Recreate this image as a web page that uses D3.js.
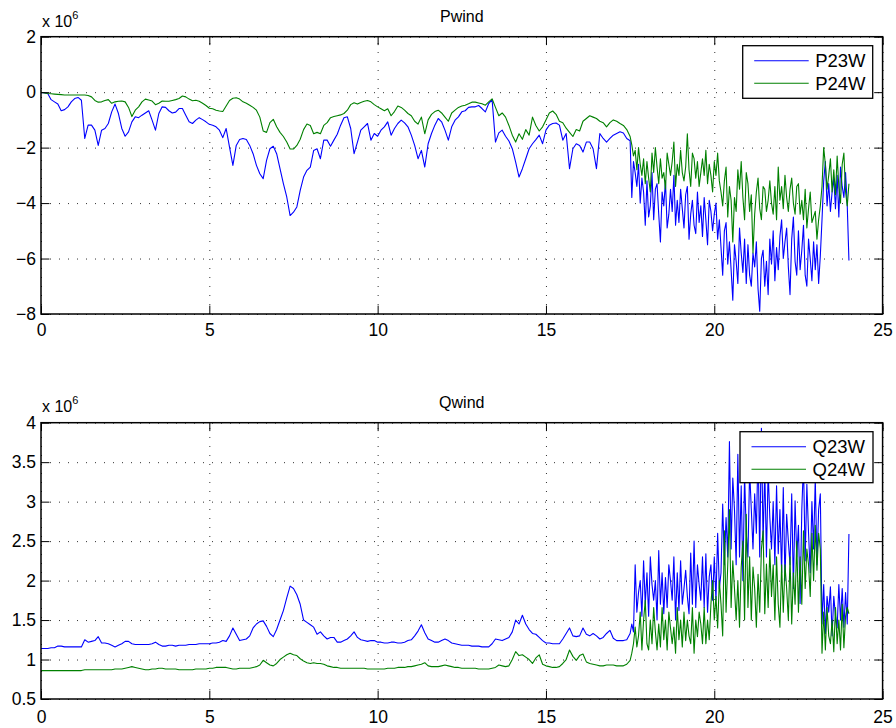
<!DOCTYPE html>
<html>
<head>
<meta charset="utf-8">
<script src="https://cdn.jsdelivr.net/npm/d3@7"></script>
<style>
  body { margin: 0; background: #fff; }
  svg { font-family: "Liberation Sans", Arial, Helvetica, sans-serif; }
</style>
</head>
<body>
<svg width="896" height="728"></svg>
<script>
// sample times, hours: every 6 min up to 17.4 h, then every 3 min (noisy part)
var hours = d3.range(175).map(i => i / 10)
    .concat(d3.range(131).map(i => 17.5 + i / 20));

// active power, x 1e6
var p23w = [
  -0.02,-0.02,-0.05,-0.27,-0.35,-0.43,-0.67,-0.63,-0.53,-0.35,
  -0.23,-0.19,-0.29,-1.67,-1.19,-1.19,-1.37,-1.92,-1.37,-1.31,
  -1.13,-0.71,-0.43,-0.77,-1.31,-1.59,-1.43,-1.07,-0.89,-0.92,
  -0.83,-0.75,-0.67,-1.01,-1.37,-0.77,-0.53,-0.55,-0.67,-0.75,
  -0.72,-0.59,-0.59,-0.83,-1.07,-1.13,-1.01,-0.92,-0.99,-1.07,
  -1.16,-1.19,-1.25,-1.37,-1.64,-1.31,-1.98,-2.64,-1.92,-1.71,
  -1.67,-1.71,-1.92,-2.22,-2.64,-2.94,-3.12,-2.46,-2.04,-1.95,
  -2.22,-2.76,-3.30,-3.78,-4.45,-4.33,-4.14,-3.54,-3.06,-2.82,
  -2.70,-2.10,-2.04,-2.40,-1.73,-1.73,-1.95,-1.73,-1.52,-1.19,
  -0.92,-0.89,-1.31,-2.22,-1.80,-1.37,-1.25,-1.13,-1.73,-1.49,
  -1.59,-1.37,-1.25,-1.07,-1.55,-1.31,-1.13,-1.01,-1.11,-1.25,
  -1.55,-1.92,-2.40,-2.10,-2.70,-1.86,-1.49,-1.19,-0.95,-1.07,
  -1.37,-1.73,-1.25,-1.01,-0.89,-0.71,-0.67,-0.55,-0.53,-0.53,
  -0.48,-0.59,-0.71,-0.41,-0.27,-1.80,-1.47,-1.37,-1.59,-1.76,
  -2.04,-2.52,-3.06,-2.76,-2.40,-2.04,-1.86,-1.71,-1.55,-1.86,
  -1.37,-1.19,-1.13,-1.11,-1.19,-1.73,-1.49,-2.76,-2.04,-1.86,
  -1.92,-2.16,-1.80,-1.80,-2.04,-2.76,-1.49,-1.67,-1.80,-1.67,
  -1.55,-1.49,-1.43,-1.47,-1.67,
  -1.75,-3.8,-2.5,-2.9,-3.4,-2.6,-4.0,-3.1,-3.6,-4.8,
  -3.2,-4.5,-4.1,-2.9,-4.6,-3.5,-3.3,-4.4,-5.4,-3.6,
  -4.1,-3.2,-4.9,-4.4,-3.5,-4.3,-3.0,-4.8,-3.9,-4.7,
  -3.5,-4.2,-4.9,-3.7,-3.4,-5.3,-4.4,-3.9,-4.8,-5.1,
  -3.6,-4.7,-4.1,-5.2,-3.8,-4.6,-5.5,-3.9,-4.3,-5.0,
  -4.4,-4.0,-5.3,-4.6,-5.6,-6.6,-5.0,-4.7,-6.2,-5.4,
  -6.4,-7.5,-5.5,-6.1,-6.9,-4.9,-5.8,-6.5,-5.3,-6.9,
  -5.5,-6.6,-7.0,-5.8,-6.3,-5.4,-7.1,-7.9,-6.0,-5.7,
  -7.0,-6.1,-7.3,-5.3,-6.2,-5.0,-6.8,-5.6,-6.4,-5.2,
  -4.6,-6.0,-5.4,-4.9,-6.3,-7.3,-5.3,-4.5,-6.1,-6.6,
  -5.0,-6.4,-5.7,-4.8,-6.6,-7.0,-5.3,-6.0,-6.8,-5.4,
  -6.4,-5.5,-6.9,-5.9,-4.6,-3.2,-2.5,-4.1,-3.3,-4.3,
  -3.6,-3.1,-4.2,-3.0,-4.5,-2.7,-3.4,-3.8,-2.9,-4.1,
  -6.07
];
var p24w = [
  0,-0.03,-0.05,-0.06,-0.07,-0.08,-0.09,-0.1,-0.1,-0.1,
  -0.1,-0.1,-0.1,-0.1,-0.12,-0.17,-0.3,-0.36,-0.35,-0.3,
  -0.27,-0.4,-0.35,-0.33,-0.32,-0.35,-0.55,-0.88,-0.65,-0.53,
  -0.35,-0.25,-0.28,-0.32,-0.45,-0.4,-0.32,-0.33,-0.33,-0.3,
  -0.27,-0.23,-0.14,-0.17,-0.25,-0.31,-0.29,-0.33,-0.4,-0.48,
  -0.58,-0.6,-0.65,-0.68,-0.7,-0.5,-0.3,-0.22,-0.2,-0.25,
  -0.35,-0.4,-0.47,-0.55,-0.65,-0.9,-1.4,-1.45,-1.1,-0.98,
  -1.25,-1.45,-1.6,-1.8,-2.05,-2.05,-1.92,-1.7,-1.35,-1.15,
  -1.2,-1.5,-1.45,-1.5,-1.2,-1.1,-0.92,-0.88,-0.85,-0.82,
  -0.77,-0.65,-0.45,-0.38,-0.43,-0.37,-0.33,-0.3,-0.35,-0.45,
  -0.53,-0.6,-0.67,-0.6,-0.85,-0.7,-0.5,-0.55,-0.65,-0.77,
  -0.85,-1.05,-1.15,-0.9,-1.5,-1.0,-0.8,-0.7,-0.65,-0.75,
  -0.9,-1.05,-0.75,-0.65,-0.55,-0.5,-0.47,-0.42,-0.36,-0.36,
  -0.39,-0.42,-0.47,-0.35,-0.24,-0.55,-0.85,-0.75,-0.9,-1.2,
  -1.55,-1.8,-1.5,-1.7,-1.35,-1.55,-0.9,-1.2,-1.4,-1.25,
  -1.0,-0.75,-0.68,-0.8,-1.05,-1.1,-1.3,-1.45,-1.6,-1.35,
  -1.4,-1.05,-0.95,-0.85,-0.9,-0.95,-1.05,-1.1,-1.25,-1.1,
  -1.0,-1.05,-1.13,-1.2,-1.35,
  -1.6,-1.9,-2.3,-2.1,-2.8,-2.0,-2.6,-3.0,-2.4,-3.3,
  -2.5,-3.1,-3.6,-2.2,-2.9,-2.0,-2.7,-3.3,-2.4,-3.1,
  -2.9,-3.5,-2.2,-2.6,-3.0,-2.5,-1.8,-3.4,-2.6,-3.0,
  -2.1,-2.9,-3.2,-2.7,-1.5,-2.8,-3.4,-2.2,-2.4,-3.1,
  -2.5,-3.4,-2.9,-2.4,-3.0,-2.1,-3.3,-2.6,-3.0,-3.6,
  -2.5,-3.0,-2.2,-3.2,-3.6,-4.1,-3.2,-2.7,-4.5,-3.4,
  -3.9,-5.4,-3.8,-4.3,-2.8,-3.5,-2.5,-3.8,-4.6,-2.9,
  -3.3,-4.3,-3.7,-5.8,-4.4,-3.6,-3.1,-4.2,-4.6,-3.4,
  -3.5,-4.3,-3.9,-3.2,-4.0,-4.4,-3.4,-4.6,-2.7,-3.9,
  -3.4,-4.2,-3.0,-3.8,-4.3,-3.5,-3.1,-4.0,-4.4,-3.4,
  -3.3,-4.4,-3.9,-4.6,-3.5,-4.9,-4.2,-3.6,-4.7,-4.5,
  -4.3,-5.3,-4.6,-4.1,-3.4,-2.0,-2.6,-3.5,-3.0,-2.4,
  -3.6,-2.8,-3.7,-2.3,-3.4,-4.0,-2.6,-2.2,-3.6,-4.1,
  -3.3
];

// reactive power, x 1e6
var q23w = [
  1.14,1.14,1.14,1.15,1.15,1.17,1.17,1.16,1.16,1.16,
  1.16,1.16,1.16,1.25,1.22,1.23,1.24,1.29,1.21,1.21,
  1.2,1.18,1.16,1.18,1.2,1.23,1.23,1.2,1.19,1.19,
  1.19,1.19,1.19,1.2,1.22,1.19,1.17,1.17,1.18,1.18,
  1.17,1.18,1.18,1.18,1.19,1.19,1.19,1.2,1.2,1.2,
  1.2,1.21,1.21,1.22,1.24,1.23,1.3,1.4,1.32,1.24,
  1.25,1.26,1.3,1.4,1.45,1.48,1.49,1.42,1.33,1.29,
  1.38,1.5,1.62,1.78,1.93,1.9,1.82,1.7,1.5,1.47,
  1.44,1.41,1.32,1.35,1.3,1.26,1.28,1.28,1.22,1.22,
  1.24,1.26,1.3,1.35,1.28,1.25,1.24,1.23,1.24,1.24,
  1.22,1.22,1.21,1.21,1.22,1.22,1.21,1.21,1.22,1.24,
  1.25,1.3,1.36,1.44,1.34,1.26,1.24,1.22,1.22,1.24,
  1.26,1.24,1.21,1.2,1.19,1.18,1.18,1.18,1.17,1.17,
  1.17,1.16,1.16,1.16,1.2,1.26,1.25,1.24,1.26,1.28,
  1.35,1.5,1.45,1.56,1.45,1.38,1.33,1.32,1.28,1.24,
  1.21,1.21,1.2,1.2,1.2,1.26,1.33,1.4,1.3,1.29,
  1.3,1.4,1.32,1.3,1.33,1.3,1.26,1.28,1.33,1.37,
  1.27,1.24,1.24,1.24,1.25,
  1.33,1.45,1.35,2.2,1.6,1.85,2.0,1.55,2.25,1.7,
  2.1,1.55,2.3,1.95,1.75,2.0,1.5,2.38,1.7,2.1,
  1.58,2.04,1.66,2.2,2.0,1.75,2.3,1.5,2.1,1.62,
  2.25,1.7,1.9,2.13,1.8,1.58,2.35,1.7,2.5,1.66,
  2.2,1.95,1.75,2.3,1.66,2.34,1.6,2.05,2.2,1.75,
  2.3,1.75,2.6,1.9,2.1,2.97,2.2,2.8,2.3,3.76,
  2.4,3.3,2.9,2.2,3.6,2.3,3.2,2.0,3.34,2.6,
  2.3,3.4,2.9,2.4,3.1,2.6,3.7,2.3,3.93,2.5,
  3.4,2.3,3.39,2.8,2.4,3.0,2.2,3.2,2.34,2.9,
  2.1,3.18,2.0,2.84,2.5,2.2,3.1,1.9,3.01,2.3,
  2.7,1.71,2.9,3.5,2.25,3.22,2.6,2.1,3.0,2.4,
  3.3,2.2,2.9,3.1,1.45,1.95,1.33,1.8,1.6,1.92,
  1.3,1.8,1.55,1.4,1.95,1.5,1.9,1.41,1.85,1.45,
  2.59
];
var q24w = [
  0.86,0.86,0.86,0.86,0.86,0.86,0.86,0.86,0.86,0.86,
  0.86,0.86,0.86,0.87,0.87,0.87,0.87,0.87,0.87,0.87,
  0.87,0.87,0.88,0.88,0.88,0.89,0.9,0.91,0.9,0.89,
  0.88,0.87,0.87,0.88,0.88,0.89,0.89,0.88,0.88,0.88,
  0.88,0.87,0.87,0.87,0.87,0.87,0.88,0.88,0.88,0.88,
  0.89,0.89,0.9,0.9,0.9,0.9,0.89,0.88,0.88,0.89,
  0.89,0.89,0.89,0.9,0.91,0.93,0.99,0.96,0.93,0.92,
  0.95,1.0,1.03,1.06,1.08,1.06,1.05,1.01,0.98,0.96,
  0.95,0.96,0.95,0.95,0.94,0.92,0.91,0.9,0.9,0.89,
  0.89,0.89,0.89,0.89,0.89,0.89,0.89,0.88,0.88,0.88,
  0.88,0.88,0.88,0.89,0.89,0.89,0.9,0.9,0.9,0.91,
  0.91,0.92,0.93,0.94,0.96,0.92,0.91,0.91,0.91,0.92,
  0.93,0.92,0.91,0.9,0.9,0.89,0.89,0.89,0.89,0.89,
  0.88,0.88,0.88,0.88,0.89,0.9,0.93,0.92,0.91,0.92,
  1.0,1.1,1.05,1.06,1.03,1.0,0.95,1.02,1.06,0.94,
  0.92,0.91,0.9,0.9,0.91,0.95,1.0,1.12,1.04,0.99,
  1.05,1.07,0.97,0.95,0.94,0.93,0.92,0.92,0.93,0.93,
  0.93,0.92,0.92,0.92,0.94,
  0.99,1.08,1.2,1.41,1.16,1.3,1.6,1.12,1.5,1.75,
  1.2,1.12,1.5,1.2,1.66,1.35,1.12,1.45,1.16,1.66,
  1.25,1.5,1.12,1.6,1.4,1.2,1.41,1.08,1.66,1.25,
  1.5,1.16,1.6,1.24,1.5,1.3,1.2,1.66,1.08,1.5,
  1.29,1.6,1.45,1.2,1.66,1.2,1.5,1.25,1.7,2.0,
  1.5,1.8,1.4,2.0,1.7,1.3,2.63,1.6,2.2,2.9,
  1.66,2.25,1.9,1.5,2.0,1.41,2.17,2.5,1.5,2.84,
  1.66,2.3,1.5,2.17,1.9,1.41,2.08,1.6,2.4,2.63,
  1.58,2.21,1.66,2.4,1.8,2.2,1.5,2.3,1.7,1.41,
  2.2,1.6,2.2,1.9,1.5,2.3,1.45,2.1,1.7,2.5,
  1.6,2.3,1.7,2.63,1.9,2.4,2.2,1.8,2.6,2.0,
  2.7,2.13,2.6,2.4,1.08,1.6,1.12,1.66,1.3,1.2,
  1.5,1.1,1.66,1.2,1.5,1.12,1.7,1.15,1.55,1.66,
  1.58
];

var xTicks = [0, 5, 10, 15, 20, 25];
var pTicks = [-8, -6, -4, -2, 0, 2];
var qTicks = [0.5, 1, 1.5, 2, 2.5, 3, 3.5, 4];

var svg = d3.select("svg");
var left = 41, right = 882.6, tick = 8.4;
var x = d3.scaleLinear().domain([0, 25]).range([left, right]);
var fmt = d => String(d).replace("-", "\u2212");

function panel(cfg) {
    var y = d3.scaleLinear().domain(cfg.domain).range([cfg.bottom, cfg.top]);
    var g = svg.append("g");
    var w = right - left, h = cfg.bottom - cfg.top;

    // dotted grid
    g.append("g")
        .attr("transform", "translate(0," + cfg.bottom + ")")
        .call(d3.axisBottom(x).tickValues(xTicks).tickSize(-h).tickFormat(""))
        .call(a => a.select(".domain").remove());
    g.append("g")
        .attr("transform", "translate(" + left + ",0)")
        .call(d3.axisLeft(y).tickValues(cfg.ticks).tickSize(-w).tickFormat(""))
        .call(a => a.select(".domain").remove());
    g.selectAll("line")
        .attr("stroke", "#333")
        .attr("stroke-width", 1)
        .attr("stroke-dasharray", "1,8");

    // data
    var clipId = "clip" + cfg.title;
    svg.append("clipPath").attr("id", clipId)
        .append("rect").attr("x", left).attr("y", cfg.top).attr("width", w).attr("height", h);
    cfg.series.forEach(function(s) {
        var line = d3.line().x((d, i) => x(hours[i])).y(d => y(d));
        g.append("path")
            .datum(s.values)
            .attr("clip-path", "url(#" + clipId + ")")
            .attr("fill", "none")
            .attr("stroke", s.color)
            .attr("stroke-width", 1.1)
            .attr("stroke-linejoin", "round")
            .attr("d", line);
    });

    // axes with inward ticks on all four sides
    var ax = [
        [d3.axisBottom(x).tickValues(xTicks).tickSize(-tick).tickPadding(cfg.xPad).tickFormat(fmt), "translate(0," + cfg.bottom + ")"],
        [d3.axisTop(x).tickValues(xTicks).tickSize(-tick).tickFormat(""), "translate(0," + cfg.top + ")"],
        [d3.axisLeft(y).tickValues(cfg.ticks).tickSize(-tick).tickPadding(5).tickFormat(fmt), "translate(" + left + ",0)"],
        [d3.axisRight(y).tickValues(cfg.ticks).tickSize(-tick).tickFormat(""), "translate(" + right + ",0)"]
    ];
    ax.forEach(function(a) {
        var s = g.append("g").attr("transform", a[1]).call(a[0]);
        s.select(".domain").remove();
        s.selectAll("line").attr("stroke", "#000").attr("stroke-width", 1);
        s.selectAll("text")
            .attr("fill", "#000")
            .style("font-size", "17.5px")
            .style("font-family", '"Liberation Sans", Arial, sans-serif');
    });
    g.append("rect")
        .attr("x", left).attr("y", cfg.top).attr("width", w).attr("height", h)
        .attr("fill", "none").attr("stroke", "#000").attr("stroke-width", 1.5);

    // title and exponent
    g.append("text").text(cfg.title)
        .attr("x", (left + right) / 2).attr("y", cfg.titleY)
        .attr("text-anchor", "middle").style("font-size", "16px");
    var e = g.append("text").attr("x", 42).attr("y", cfg.expY).style("font-size", "16px");
    e.append("tspan").text("x 10");
    e.append("tspan").text("6").attr("dy", -8).style("font-size", "11px");

    // legend
    var L = cfg.legend;
    var lg = g.append("g");
    lg.append("rect")
        .attr("x", L.x).attr("y", L.y).attr("width", L.w).attr("height", L.h)
        .attr("fill", "#fff").attr("stroke", "#000").attr("stroke-width", 1.3);
    cfg.series.forEach(function(s, i) {
        var yy = L.y + 15 + i * 22.5;
        lg.append("line")
            .attr("x1", L.x + 11.5).attr("x2", L.x + 66).attr("y1", yy).attr("y2", yy)
            .attr("stroke", s.color).attr("stroke-width", 1.1);
        lg.append("text").text(s.name)
            .attr("x", L.x + 72.5).attr("y", yy + 6.5)
            .style("font-size", "18.5px");
    });
}

panel({
    title: "Pwind", top: 36.7, bottom: 314, domain: [-8, 2], ticks: pTicks,
    titleY: 22, expY: 27, xPad: 10,
    series: [{ name: "P23W", values: p23w, color: "#0000ff" },
             { name: "P24W", values: p24w, color: "#008000" }],
    legend: { x: 742.7, y: 45.7, w: 130, h: 52.6 }
});
panel({
    title: "Qwind", top: 422.7, bottom: 699, domain: [0.5, 4], ticks: qTicks,
    titleY: 408, expY: 412, xPad: 12,
    series: [{ name: "Q23W", values: q23w, color: "#0000ff" },
             { name: "Q24W", values: q24w, color: "#008000" }],
    legend: { x: 740, y: 431.7, w: 133, h: 51 }
});
</script>
</body>
</html>
